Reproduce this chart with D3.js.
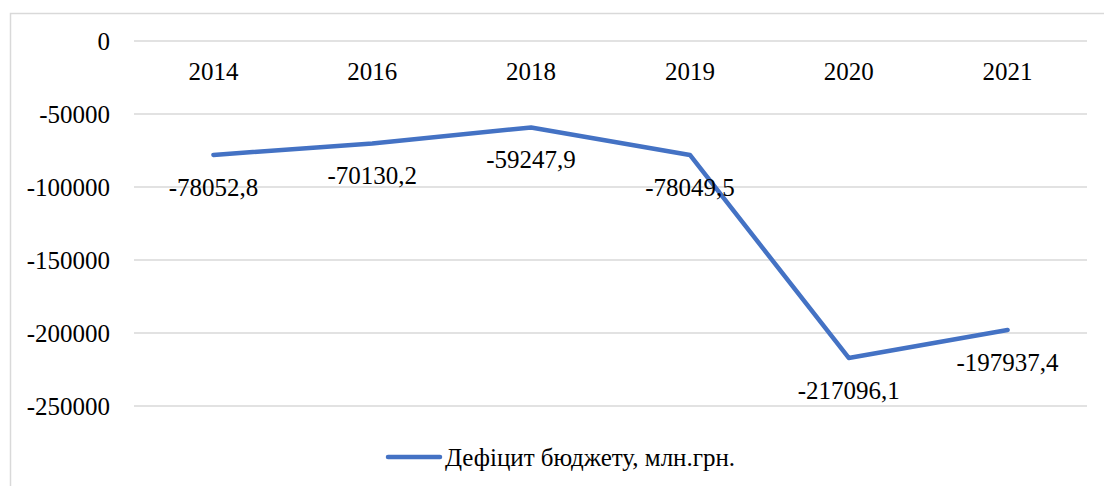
<!DOCTYPE html>
<html>
<head>
<meta charset="utf-8">
<script src="https://cdn.jsdelivr.net/npm/d3@7"></script>
<style>
  body { margin: 0; background: #fff; }
</style>
</head>
<body>
<div class="chart"></div>
<script>
const w = 1104;
const h = 486;

const years = ["2014", "2016", "2018", "2019", "2020", "2021"];
const deficit = [-78052.8, -70130.2, -59247.9, -78049.5, -217096.1, -197937.4];
const labels = ["-78052,8", "-70130,2", "-59247,9", "-78049,5", "-217096,1", "-197937,4"];
const yTicks = [0, -50000, -100000, -150000, -200000, -250000];
const seriesName = "Дефіцит бюджету, млн.грн.";

const font = '"Liberation Serif"';
const fontSize = "25px";

const svg = d3.select(".chart")
    .append("svg")
    .attr("width", w)
    .attr("height", h);

// outer frame (cropped on right and bottom)
svg.append("rect")
    .attr("x", 10.5)
    .attr("y", 13.5)
    .attr("width", w)
    .attr("height", h)
    .attr("fill", "none")
    .attr("stroke", "#d9d9d9")
    .attr("stroke-width", 1.5);

const x = d3.scaleBand()
    .domain(years)
    .range([134, 1087]);

const y = d3.scaleLinear()
    .domain([-250000, 0])
    .range([406, 41]);

// gridlines
svg.append("g")
    .selectAll("line")
    .data(yTicks)
    .enter()
    .append("line")
    .attr("x1", 134)
    .attr("x2", 1087)
    .attr("y1", d => y(d))
    .attr("y2", d => y(d))
    .attr("stroke", "#d9d9d9")
    .attr("stroke-width", 1.5);

// y labels
svg.append("g")
    .selectAll("text")
    .data(yTicks)
    .enter()
    .append("text")
    .attr("x", 110)
    .attr("y", d => y(d))
    .attr("dy", "0.35em")
    .attr("text-anchor", "end")
    .style("font-family", font)
    .style("font-size", fontSize)
    .text(d => d);

// category labels under the zero line
svg.append("g")
    .selectAll("text")
    .data(years)
    .enter()
    .append("text")
    .attr("x", d => x(d) + x.bandwidth() / 2)
    .attr("y", 71)
    .attr("dy", "0.35em")
    .attr("text-anchor", "middle")
    .style("font-family", font)
    .style("font-size", fontSize)
    .text(d => d);

const line = d3.line()
    .x((d, i) => x(years[i]) + x.bandwidth() / 2)
    .y(d => y(d));

svg.append("path")
    .datum(deficit)
    .attr("d", line)
    .attr("fill", "none")
    .attr("stroke", "#4472C4")
    .attr("stroke-width", 4.5)
    .attr("stroke-linejoin", "round")
    .attr("stroke-linecap", "round");

// data labels
svg.append("g")
    .selectAll("text")
    .data(deficit)
    .enter()
    .append("text")
    .attr("x", (d, i) => x(years[i]) + x.bandwidth() / 2)
    .attr("y", d => y(d) + 32)
    .attr("dy", "0.35em")
    .attr("text-anchor", "middle")
    .style("font-family", font)
    .style("font-size", fontSize)
    .text((d, i) => labels[i]);

// legend
const legend = svg.append("g")
    .attr("transform", "translate(388, 457)");

legend.append("line")
    .attr("x1", 0)
    .attr("x2", 52)
    .attr("stroke", "#4472C4")
    .attr("stroke-width", 4.5)
    .attr("stroke-linecap", "round");

legend.append("text")
    .attr("x", 57)
    .attr("dy", "0.35em")
    .style("font-family", font)
    .style("font-size", fontSize)
    .text(seriesName);
</script>
</body>
</html>
